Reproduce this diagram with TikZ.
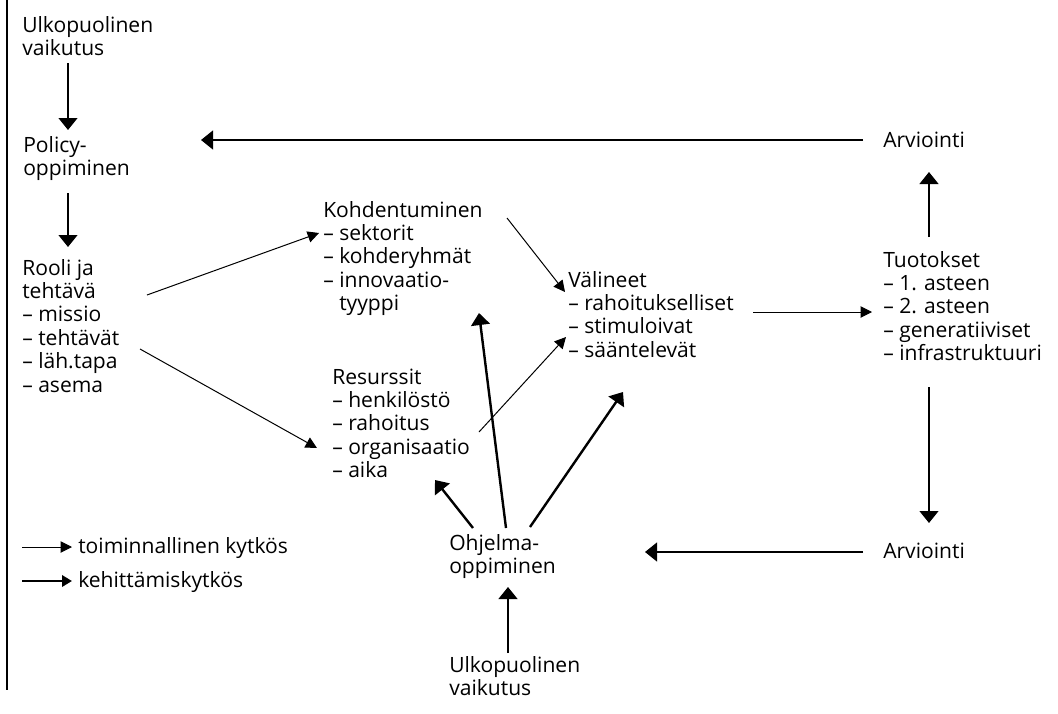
\documentclass[tikz,border=0pt]{standalone}
\usepackage{fontspec}
\setmainfont{Open Sans}
\usetikzlibrary{arrows.meta}
\newcommand{\mylines}[1]{\begin{tabular}[t]{@{}l@{}}#1\end{tabular}}
\begin{document}
\begin{tikzpicture}[x=0.75pt,y=-0.75pt,
  txt/.style={inner sep=0pt, anchor=base west, font=\fontsize{15.8}{17.6}\selectfont},
  func/.style={line width=0.75pt, -{Triangle[length=8.5pt,width=8.5pt]}},
  devl/.style={line width=1.8pt, -{Triangle[length=9pt,width=14pt]}},
  devleg/.style={line width=1.8pt, -{Triangle[length=7.5pt,width=8.5pt]}}]
\useasboundingbox (0,0) rectangle (1058,714);
\draw[line width=0.8pt] (7,0) -- (7,690);
% nodes
\node[txt] (ulkotop) at (22,32) {\mylines{Ulkopuolinen\\vaikutus}};
\node[txt] (policy) at (23,152) {\mylines{Policy-\\oppiminen}};
\node[txt] (rooli) at (22,275) {\mylines{Rooli ja\\tehtävä\\– missio\\– tehtävät\\– läh.tapa\\– asema}};
\node[txt] (kohd) at (323,217) {\mylines{Kohdentuminen\\– sektorit\\– kohderyhmät\\– innovaatio-\\\phantom{– }tyyppi}};
\node[txt] (valin) at (568,287) {\mylines{Välineet\\– rahoitukselliset\\– stimuloivat\\– sääntelevät}};
\node[txt] (resur) at (332,384) {\mylines{Resurssit\\– henkilöstö\\– rahoitus\\– organisaatio\\– aika}};
\node[txt] (tuot) at (883,267) {\mylines{Tuotokset\\– 1. asteen\\– 2. asteen\\– generatiiviset\\– infrastruktuuri}};
\node[txt] (arvtop) at (883,147) {Arviointi};
\node[txt] (arvbot) at (883,558) {Arviointi};
\node[txt] (ohj) at (449,550) {\mylines{Ohjelma-\\oppiminen}};
\node[txt] (ulkobot) at (449,672) {\mylines{Ulkopuolinen\\vaikutus}};
\node[txt] (leg1) at (78,553) {toiminnallinen kytkös};
\node[txt] (leg2) at (78,587) {kehittämiskytkös};
% development links
\draw[devl] ([shift={(46,31)}]ulkotop.base west) -- ([shift={(45,-22)}]policy.base west);
\draw[devl] ([shift={(45,41)}]policy.base west) -- ([shift={(46,-28)}]rooli.base west);
\draw[devl] ([shift={(46,-30)}]tuot.base west) -- ([shift={(46,25)}]arvtop.base west);
\draw[devl] ([shift={(-20,-7)}]arvtop.base west) -- ([shift={(178,-12)}]policy.base west);
\draw[devl] ([shift={(46,120)}]tuot.base west) -- ([shift={(46,-35)}]arvbot.base west);
\draw[devl] ([shift={(-20,-6)}]arvbot.base west) -- ([shift={(196,2)}]ohj.base west);
\draw[devl] ([shift={(59,-19)}]ulkobot.base west) -- ([shift={(59,37)}]ohj.base west);
\draw[devl] ([shift={(24,-22)}]ohj.base west) -- ([shift={(103,96)}]resur.base west);
\draw[devl] ([shift={(57,-22)}]ohj.base west) -- ([shift={(156,96)}]kohd.base west);
\draw[devl] ([shift={(81,-23)}]ohj.base west) -- ([shift={(55,105)}]valin.base west);
% functional links
\draw[func] ([shift={(125,20)}]rooli.base west) -- ([shift={(-4,16)}]kohd.base west);
\draw[func] ([shift={(118,74)}]rooli.base west) -- ([shift={(-15,64)}]resur.base west);
\draw[func] ([shift={(184,1)}]kohd.base west) -- ([shift={(-3,5)}]valin.base west);
\draw[func] ([shift={(147,48)}]resur.base west) -- ([shift={(-2,50)}]valin.base west);
\draw[func] ([shift={(185,25)}]valin.base west) -- ([shift={(-11,45)}]tuot.base west);
% legend
\draw[func] ([shift={(-56,-6)}]leg1.base west) -- ([shift={(-6,-6)}]leg1.base west);
\draw[devleg] ([shift={(-56,-6)}]leg2.base west) -- ([shift={(-6,-6)}]leg2.base west);
\end{tikzpicture}
\end{document}
